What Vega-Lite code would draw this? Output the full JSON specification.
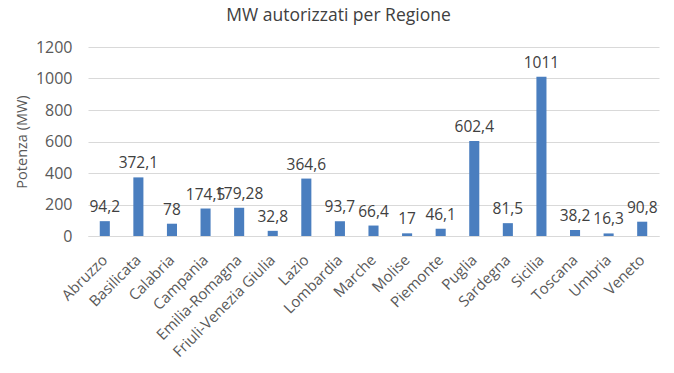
{
  "$schema": "https://vega.github.io/schema/vega-lite/v6.json",
  "autosize": "none",
  "width": 571,
  "height": 189,
  "padding": {"left": 88, "top": 47, "right": 15, "bottom": 137},
  "background": "white",
  "config": {
    "view": {"stroke": null},
    "font": "Open Sans",
    "locale": {"number": {"decimal": ",", "thousands": ".", "grouping": [3], "currency": ["", " €"]}}
  },
  "title": {
    "text": "MW autorizzati per Regione",
    "fontSize": 17.5,
    "fontWeight": "normal",
    "color": "#404040",
    "font": "Open Sans",
    "anchor": "middle",
    "dx": -35,
    "offset": 15
  },
  "data": {
    "values": [
      {"regione": "Abruzzo", "mw": 94.2},
      {"regione": "Basilicata", "mw": 372.1},
      {"regione": "Calabria", "mw": 78},
      {"regione": "Campania", "mw": 174.5},
      {"regione": "Emilia-Romagna", "mw": 179.28},
      {"regione": "Friuli-Venezia Giulia", "mw": 32.8},
      {"regione": "Lazio", "mw": 364.6},
      {"regione": "Lombardia", "mw": 93.7},
      {"regione": "Marche", "mw": 66.4},
      {"regione": "Molise", "mw": 17},
      {"regione": "Piemonte", "mw": 46.1},
      {"regione": "Puglia", "mw": 602.4},
      {"regione": "Sardegna", "mw": 81.5},
      {"regione": "Sicilia", "mw": 1011},
      {"regione": "Toscana", "mw": 38.2},
      {"regione": "Umbria", "mw": 16.3},
      {"regione": "Veneto", "mw": 90.8}
    ]
  },
  "encoding": {
    "x": {
      "field": "regione",
      "type": "nominal",
      "sort": null,
      "title": null,
      "scale": {"paddingInner": 0.7, "paddingOuter": 0.35},
      "axis": {
        "labelAngle": -45,
        "labelAlign": "right",
        "labelBaseline": "middle",
        "labelFontSize": 15,
        "labelColor": "#595959",
        "labelFont": "Open Sans",
        "labelPadding": 21,
        "ticks": false,
        "domainColor": "#d9d9d9",
        "labelOverlap": false
      }
    },
    "y": {
      "field": "mw",
      "type": "quantitative",
      "title": "Potenza (MW)",
      "scale": {"domain": [0, 1200]},
      "axis": {
        "values": [0, 200, 400, 600, 800, 1000, 1200],
        "format": "d",
        "domain": false,
        "ticks": false,
        "gridColor": "#d9d9d9",
        "labelFontSize": 16,
        "labelColor": "#595959",
        "labelPadding": 16,
        "titleFontSize": 14.5,
        "titleFontWeight": "normal",
        "titleColor": "#595959",
        "titlePadding": 6
      }
    }
  },
  "layer": [
    {"mark": {"type": "bar", "color": "#4a7ebf"}},
    {
      "mark": {"type": "text", "baseline": "bottom", "dy": -6, "fontSize": 15.5, "color": "#404040", "font": "Open Sans"},
      "encoding": {"text": {"field": "mw", "type": "quantitative", "format": "~f"}}
    }
  ]
}
